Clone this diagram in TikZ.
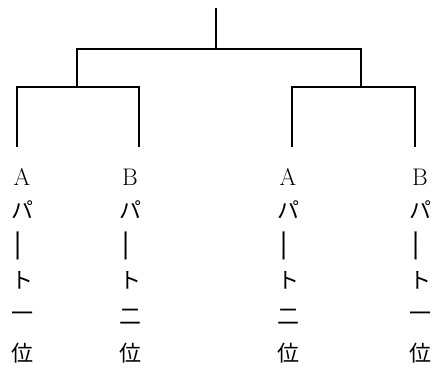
\documentclass[tikz,border=0pt]{standalone}
\usepackage{fontspec}
\newfontfamily\jpfont{Noto Sans CJK JP}
\begin{document}
\begin{tikzpicture}[x=1pt,y=-1pt,line width=1.3pt,
  lat/.style={inner sep=0pt,font=\fontsize{24}{24}\selectfont},
  jp/.style={inner sep=0pt,font=\fontsize{22}{22}\selectfont\jpfont}]
\useasboundingbox (0,0) rectangle (435,369);
% bracket
\coordinate (top) at (216,8);
\coordinate (final) at (216,49);
\coordinate (semiL) at (77,49);
\coordinate (semiR) at (361,49);
\coordinate (semiLb) at (77,87);
\coordinate (semiRb) at (361,87);
\draw (top) -- (final);
\draw (semiLb) -- (semiL) -- (semiR) -- (semiRb);
\foreach \a/\b/\n in {17/139/L,292/415/R} {
  \coordinate (\n1) at (\a,147);
  \coordinate (\n2) at (\b,147);
  \draw (\n1) -- (\a,87) -- (\b,87) -- (\n2);
}
% team names, written top to bottom
\foreach \x/\p/\r [count=\i] in {22/A/一,130/B/二,288/A/二,420/B/一} {
  \node[lat] (a\i) at (\x,177) {\p};
  \node[jp] (b\i) at (\x,210) {パ};
  \node[jp,rotate=90,xscale=1.6] (c\i) at (\x,246) {ー};
  \node[jp] (d\i) at (\x,280) {ト};
  \node[jp] (e\i) at (\x,317) {\r};
  \node[jp] (f\i) at (\x,353) {位};
}
\end{tikzpicture}
\end{document}
